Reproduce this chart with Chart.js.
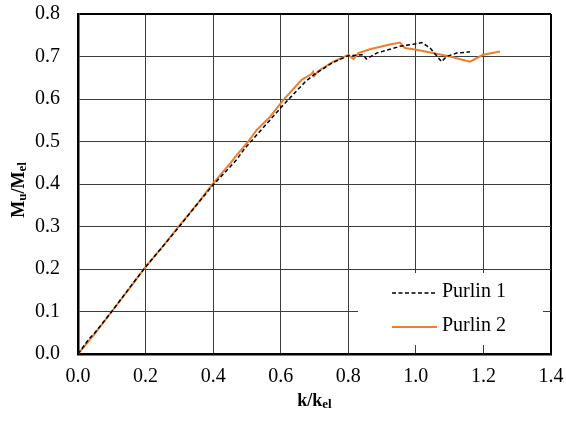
<!DOCTYPE html>
<html>
<head>
<meta charset="utf-8">
<script src="https://cdn.jsdelivr.net/npm/chart.js@4/dist/chart.umd.min.js"></script>
<style>
  html, body { margin: 0; padding: 0; background: #fff; }
  #wrap { width: 566px; height: 421px; position: relative; }
</style>
</head>
<body>
<div id="wrap"><canvas id="c" width="566" height="421"></canvas></div>
<script>
// ---- data ----
const seriesNames = ['Purlin 1', 'Purlin 2'];

const kPurlin1 = [0, 0.033, 0.05, 0.1, 0.15, 0.2, 0.25, 0.3, 0.35, 0.4, 0.45, 0.47, 0.494, 0.553, 0.603, 0.672, 0.7, 0.75, 0.8, 0.844, 0.854, 0.884, 0.953, 1.002, 1.017, 1.042, 1.076, 1.091, 1.121, 1.160];
const mPurlin1 = [0, 0.036, 0.05, 0.1, 0.153, 0.205, 0.252, 0.3, 0.35, 0.398, 0.44, 0.458, 0.484, 0.537, 0.582, 0.64, 0.658, 0.684, 0.702, 0.704, 0.694, 0.708, 0.724, 0.730, 0.733, 0.720, 0.688, 0.700, 0.708, 0.711];

const kPurlin2 = [0, 0.05, 0.1, 0.15, 0.2, 0.25, 0.3, 0.35, 0.396, 0.45, 0.47, 0.504, 0.529, 0.568, 0.608, 0.662, 0.69, 0.696, 0.699, 0.711, 0.756, 0.8, 0.815, 0.83, 0.864, 0.923, 0.953, 0.968, 1.002, 1.101, 1.160, 1.199, 1.249];
const mPurlin2 = [0, 0.048, 0.1, 0.152, 0.205, 0.252, 0.302, 0.35, 0.398, 0.448, 0.468, 0.5, 0.527, 0.558, 0.598, 0.645, 0.658, 0.664, 0.654, 0.666, 0.688, 0.704, 0.694, 0.708, 0.717, 0.728, 0.733, 0.720, 0.716, 0.700, 0.688, 0.704, 0.712];

const xTickLabels = ['0.0', '0.2', '0.4', '0.6', '0.8', '1.0', '1.2', '1.4'];
const yTickLabels = ['0.0', '0.1', '0.2', '0.3', '0.4', '0.5', '0.6', '0.7', '0.8'];

const xTitle = [{ t: 'k' }, { t: '/k' }, { t: 'el', sub: true }];
const yTitle = [{ t: 'M' }, { t: 'u', sub: true }, { t: '/M' }, { t: 'el', sub: true }];

// ---- helpers ----
const FAMILY = "'Liberation Serif', 'Times New Roman', serif";
const toPts = (xs, ys) => xs.map((x, i) => ({ x: x, y: ys[i] }));

function drawRich(ctx, segs, size, subSize) {
  let w = 0;
  const widths = segs.map(s => {
    ctx.font = 'bold ' + (s.sub ? subSize : size) + 'px ' + FAMILY;
    const m = ctx.measureText(s.t).width;
    w += m;
    return m;
  });
  let x = -w / 2;
  segs.forEach((s, i) => {
    ctx.font = 'bold ' + (s.sub ? subSize : size) + 'px ' + FAMILY;
    ctx.fillText(s.t, x, s.sub ? size * 0.22 : 0);
    x += widths[i];
  });
}

const titlesPlugin = {
  id: 'titles',
  afterDraw(chart) {
    const ctx = chart.ctx;
    const a = chart.chartArea;
    ctx.save();
    ctx.fillStyle = '#000';
    ctx.textBaseline = 'middle';
    ctx.textAlign = 'left';
    ctx.save();
    ctx.translate((a.left + a.right) / 2, 401);
    drawRich(ctx, xTitle, 18, 13);
    ctx.restore();
    ctx.save();
    ctx.translate(19, 190);
    ctx.rotate(-Math.PI / 2);
    drawRich(ctx, yTitle, 18, 13);
    ctx.restore();
    ctx.restore();
  }
};

const legendPlugin = {
  id: 'boxLegend',
  beforeDatasetsDraw(chart) {
    const ctx = chart.ctx;
    const bx = 358, by = 273, bw = 185, bh = 72;
    ctx.save();
    ctx.fillStyle = '#fff';
    ctx.fillRect(bx, by, bw, bh);
    const rows = [
      { y: 293, ds: chart.data.datasets[0] },
      { y: 327, ds: chart.data.datasets[1] }
    ];
    rows.forEach(r => {
      ctx.beginPath();
      ctx.strokeStyle = r.ds.borderColor;
      ctx.lineWidth = r.ds.borderWidth;
      ctx.setLineDash(r.ds.borderDash || []);
      ctx.moveTo(392, r.y);
      ctx.lineTo(437, r.y);
      ctx.stroke();
      ctx.setLineDash([]);
      ctx.fillStyle = '#000';
      ctx.font = '20px ' + FAMILY;
      ctx.textBaseline = 'middle';
      ctx.textAlign = 'left';
      ctx.fillText(r.ds.label, 442, r.y - 1);
    });
    ctx.restore();
  }
};

const gridColor = '#3c3c3c';

function build() {
  new Chart(document.getElementById('c'), {
    type: 'scatter',
    data: {
      datasets: [
        {
          label: seriesNames[0],
          data: toPts(kPurlin1, mPurlin1),
          showLine: true,
          borderColor: '#000000',
          borderWidth: 1.5,
          borderDash: [4, 2.5],
          pointRadius: 0,
          tension: 0,
          order: 1
        },
        {
          label: seriesNames[1],
          data: toPts(kPurlin2, mPurlin2),
          showLine: true,
          borderColor: '#ED7D31',
          borderWidth: 2,
          pointRadius: 0,
          tension: 0,
          order: 2
        }
      ]
    },
    options: {
      responsive: false,
      animation: false,
      layout: { padding: { left: 0, right: 15, top: 14, bottom: 0 } },
      plugins: { legend: { display: false }, tooltip: { enabled: false } },
      scales: {
        x: {
          type: 'linear',
          min: 0, max: 1.4,
          afterBuildTicks: s => { s.ticks = xTickLabels.map(t => ({ value: parseFloat(t) })); },
          afterFit: s => { s.height = 67; s.paddingLeft = 0; s.paddingRight = 0; },
          ticks: {
            callback: (v, i) => xTickLabels[i],
            font: { family: FAMILY, size: 20 },
            color: '#000',
            padding: 11,
            maxRotation: 0,
            autoSkip: false
          },
          grid: {
            drawTicks: false,
            color: ctx => (ctx.tick && ctx.tick.value === 1.4) ? '#000' : gridColor,
            lineWidth: ctx => (ctx.tick && ctx.tick.value === 1.4) ? 2 : 1
          },
          border: { display: true, color: '#000', width: 2.5 }
        },
        y: {
          type: 'linear',
          min: 0, max: 0.8,
          afterBuildTicks: s => { s.ticks = yTickLabels.map(t => ({ value: parseFloat(t) })); },
          afterFit: s => { s.width = 78; s.paddingTop = 0; s.paddingBottom = 0; },
          ticks: {
            callback: (v, i) => yTickLabels[i],
            font: { family: FAMILY, size: 20 },
            color: '#000',
            padding: 18,
            autoSkip: false
          },
          grid: {
            drawTicks: false,
            color: ctx => (ctx.tick && ctx.tick.value === 0.8) ? '#000' : gridColor,
            lineWidth: ctx => (ctx.tick && ctx.tick.value === 0.8) ? 2 : 1
          },
          border: { display: true, color: '#000', width: 2.5 }
        }
      }
    },
    plugins: [legendPlugin, titlesPlugin]
  });
}

let built = false;
function go() { if (!built) { built = true; build(); } }
if (document.fonts && document.fonts.load) {
  Promise.all([
    document.fonts.load("20px 'Liberation Serif'"),
    document.fonts.load("bold 18px 'Liberation Serif'")
  ]).then(go, go);
  setTimeout(go, 500);
} else {
  go();
}
</script>
</body>
</html>
